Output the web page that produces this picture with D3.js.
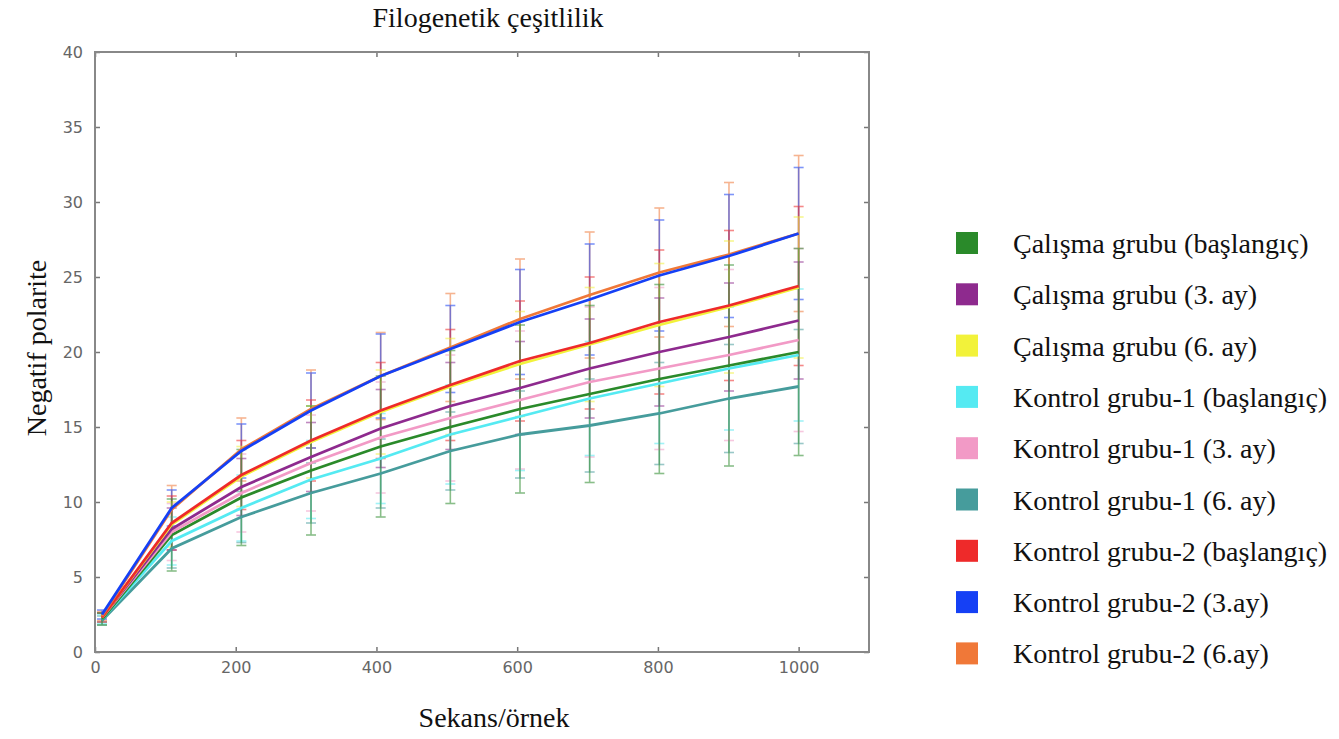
<!DOCTYPE html>
<meta charset="utf-8">
<style>
  body { margin: 0; background: #fff; }
  .tick text { font-family: "DejaVu Sans", sans-serif; font-size: 16px; fill: #666; }
  .tick line { stroke: #777; stroke-width: 1.5px; }
  .label { font-family: "Liberation Serif", "Times New Roman", serif; fill: #111; }
</style>
<svg width="1339" height="739"></svg>
<script src="https://d3js.org/d3.v7.min.js"></script>
<script>
  // rarefaction depths (sequences per sample)
  var depths = [10, 109, 208, 307, 406, 505, 604, 703, 802, 901, 1000];
  var xTicks = [0, 200, 400, 600, 800, 1000];
  var yTicks = [0, 5, 10, 15, 20, 25, 30, 35, 40];

  var seriesNames = [
    "Çalışma grubu (başlangıç)",
    "Çalışma grubu (3. ay)",
    "Çalışma grubu (6. ay)",
    "Kontrol grubu-1 (başlangıç)",
    "Kontrol grubu-1 (3. ay)",
    "Kontrol grubu-1 (6. ay)",
    "Kontrol grubu-2 (başlangıç)",
    "Kontrol grubu-2 (3.ay)",
    "Kontrol grubu-2 (6.ay)"
  ];
  var seriesColors = ["#2a8a2a", "#8e2a8e", "#f2f23a", "#55eaf2", "#f29ac6",
    "#469c9c", "#ee2a2a", "#1540f5", "#f07838"];

  // mean values
  var calisma0 = [2.2, 7.8, 10.3, 12.1, 13.7, 15.0, 16.2, 17.2, 18.2, 19.1, 20.0];
  var calisma3 = [2.3, 8.2, 11.0, 13.0, 14.9, 16.4, 17.6, 18.9, 20.0, 21.0, 22.1];
  var calisma6 = [2.3, 8.5, 11.7, 14.0, 16.0, 17.7, 19.2, 20.5, 21.8, 23.0, 24.3];
  var kontrol1_0 = [2.2, 7.4, 9.6, 11.5, 12.9, 14.5, 15.7, 16.9, 17.9, 18.9, 19.8];
  var kontrol1_3 = [2.3, 8.0, 10.6, 12.6, 14.3, 15.6, 16.8, 18.0, 18.9, 19.8, 20.8];
  var kontrol1_6 = [2.1, 6.9, 9.0, 10.6, 11.9, 13.4, 14.5, 15.1, 15.9, 16.9, 17.7];
  var kontrol2_0 = [2.3, 8.6, 11.8, 14.1, 16.1, 17.8, 19.4, 20.6, 22.0, 23.1, 24.4];
  var kontrol2_3 = [2.5, 9.6, 13.4, 16.1, 18.4, 20.2, 22.0, 23.5, 25.1, 26.4, 27.9];
  var kontrol2_6 = [2.4, 9.5, 13.5, 16.2, 18.4, 20.3, 22.2, 23.8, 25.3, 26.5, 27.9];

  // standard deviations (error bars)
  var calisma0Sd = [0.4, 2.4, 3.2, 4.3, 4.7, 5.1, 5.6, 5.9, 6.3, 6.7, 6.9];
  var calisma3Sd = [0.3, 1.4, 1.9, 2.3, 2.6, 2.9, 3.1, 3.3, 3.6, 3.6, 3.9];
  var calisma6Sd = [0.3, 1.5, 2.0, 2.4, 2.8, 3.2, 3.5, 3.8, 4.1, 4.4, 4.7];
  var kontrol1_0Sd = [0.3, 1.6, 2.2, 2.6, 3.0, 3.3, 3.6, 3.8, 4.0, 4.1, 4.4];
  var kontrol1_3Sd = [0.3, 1.9, 2.6, 3.2, 3.7, 4.2, 4.6, 5.0, 5.4, 5.7, 6.1];
  var kontrol1_6Sd = [0.3, 1.3, 1.7, 2.0, 2.3, 2.6, 2.9, 3.1, 3.4, 3.6, 3.8];
  var kontrol2_0Sd = [0.3, 1.8, 2.3, 2.7, 3.2, 3.7, 4.0, 4.4, 4.8, 5.0, 5.3];
  var kontrol2_3Sd = [0.3, 1.2, 1.8, 2.5, 2.8, 2.9, 3.5, 3.7, 3.7, 4.1, 4.4];
  var kontrol2_6Sd = [0.3, 1.6, 2.1, 2.6, 2.9, 3.6, 4.0, 4.2, 4.3, 4.8, 5.2];

  var means = [calisma0, calisma3, calisma6, kontrol1_0, kontrol1_3, kontrol1_6, kontrol2_0, kontrol2_3, kontrol2_6];
  var sds = [calisma0Sd, calisma3Sd, calisma6Sd, kontrol1_0Sd, kontrol1_3Sd, kontrol1_6Sd, kontrol2_0Sd, kontrol2_3Sd, kontrol2_6Sd];

  var series = seriesNames.map(function (name, i) {
    return {
      name: name,
      color: seriesColors[i],
      values: depths.map(function (d, j) {
        return { x: d, y: means[i][j], sd: sds[i][j] };
      })
    };
  });

  var svg = d3.select("svg");
  var plot = { left: 95, top: 52, right: 869, bottom: 652 };

  var x = d3.scaleLinear().domain([0, 1100]).range([plot.left, plot.right]);
  var y = d3.scaleLinear().domain([0, 40]).range([plot.bottom, plot.top]);

  // axes, ticks pointing inward on all four sides
  svg.append("g")
    .attr("transform", "translate(0," + plot.bottom + ")")
    .call(d3.axisBottom(x).tickValues(xTicks).tickFormat(d3.format("d")).tickSize(-5).tickPadding(10))
    .call(function (g) { g.select(".domain").remove(); });
  svg.append("g")
    .attr("transform", "translate(0," + plot.top + ")")
    .call(d3.axisTop(x).tickValues(xTicks).tickSize(-5).tickFormat(""))
    .call(function (g) { g.select(".domain").remove(); });
  svg.append("g")
    .attr("transform", "translate(" + plot.left + ",0)")
    .call(d3.axisLeft(y).tickValues(yTicks).tickSize(-5).tickPadding(12))
    .call(function (g) { g.select(".domain").remove(); });
  svg.append("g")
    .attr("transform", "translate(" + plot.right + ",0)")
    .call(d3.axisRight(y).tickValues(yTicks).tickSize(-5).tickFormat(""))
    .call(function (g) { g.select(".domain").remove(); });

  // error bars (drawn in reverse so the first group sits on top)
  var bars = svg.append("g").attr("class", "errorbars");
  series.slice().reverse().forEach(function (s) {
    var g = bars.append("g")
      .attr("stroke", s.color)
      .attr("stroke-width", 1.6)
      .attr("opacity", 0.55);
    g.selectAll("line.v").data(s.values).join("line")
      .attr("x1", function (d) { return x(d.x); })
      .attr("x2", function (d) { return x(d.x); })
      .attr("y1", function (d) { return y(d.y - d.sd); })
      .attr("y2", function (d) { return y(d.y + d.sd); });
    [-1, 1].forEach(function (sign) {
      g.selectAll(null).data(s.values).join("line")
        .attr("x1", function (d) { return x(d.x) - 5; })
        .attr("x2", function (d) { return x(d.x) + 5; })
        .attr("y1", function (d) { return y(d.y + sign * d.sd); })
        .attr("y2", function (d) { return y(d.y + sign * d.sd); });
    });
  });

  // mean lines
  var line = d3.line()
    .x(function (d) { return x(d.x); })
    .y(function (d) { return y(d.y); });

  var lineOrder = [5, 3, 0, 4, 1, 2, 6, 8, 7];
  lineOrder.forEach(function (i) {
    svg.append("path")
      .datum(series[i].values)
      .attr("fill", "none")
      .attr("stroke", series[i].color)
      .attr("stroke-width", 2.8)
      .attr("d", line);
  });

  // frame
  svg.append("rect")
    .attr("x", plot.left)
    .attr("y", plot.top)
    .attr("width", plot.right - plot.left)
    .attr("height", plot.bottom - plot.top)
    .attr("fill", "none")
    .attr("stroke", "#888")
    .attr("stroke-width", 2);

  // titles
  svg.append("text")
    .attr("class", "label")
    .attr("x", 488)
    .attr("y", 27)
    .attr("text-anchor", "middle")
    .attr("font-size", 28)
    .text("Filogenetik çeşitlilik");

  svg.append("text")
    .attr("class", "label")
    .attr("x", 494)
    .attr("y", 727)
    .attr("text-anchor", "middle")
    .attr("font-size", 28)
    .text("Sekans/örnek");

  svg.append("text")
    .attr("class", "label")
    .attr("transform", "translate(46,348) rotate(-90)")
    .attr("text-anchor", "middle")
    .attr("font-size", 28)
    .text("Negatif polarite");

  // legend
  var legend = svg.append("g").attr("transform", "translate(956,243)");
  var item = legend.selectAll("g").data(series).join("g")
    .attr("transform", function (d, i) { return "translate(0," + (i * 51.3) + ")"; });
  item.append("rect")
    .attr("x", 0)
    .attr("y", -11)
    .attr("width", 22)
    .attr("height", 22)
    .attr("fill", function (d) { return d.color; });
  item.append("text")
    .attr("class", "label")
    .attr("x", 57)
    .attr("y", 10)
    .attr("font-size", 28)
    .text(function (d) { return d.name; });
</script>
